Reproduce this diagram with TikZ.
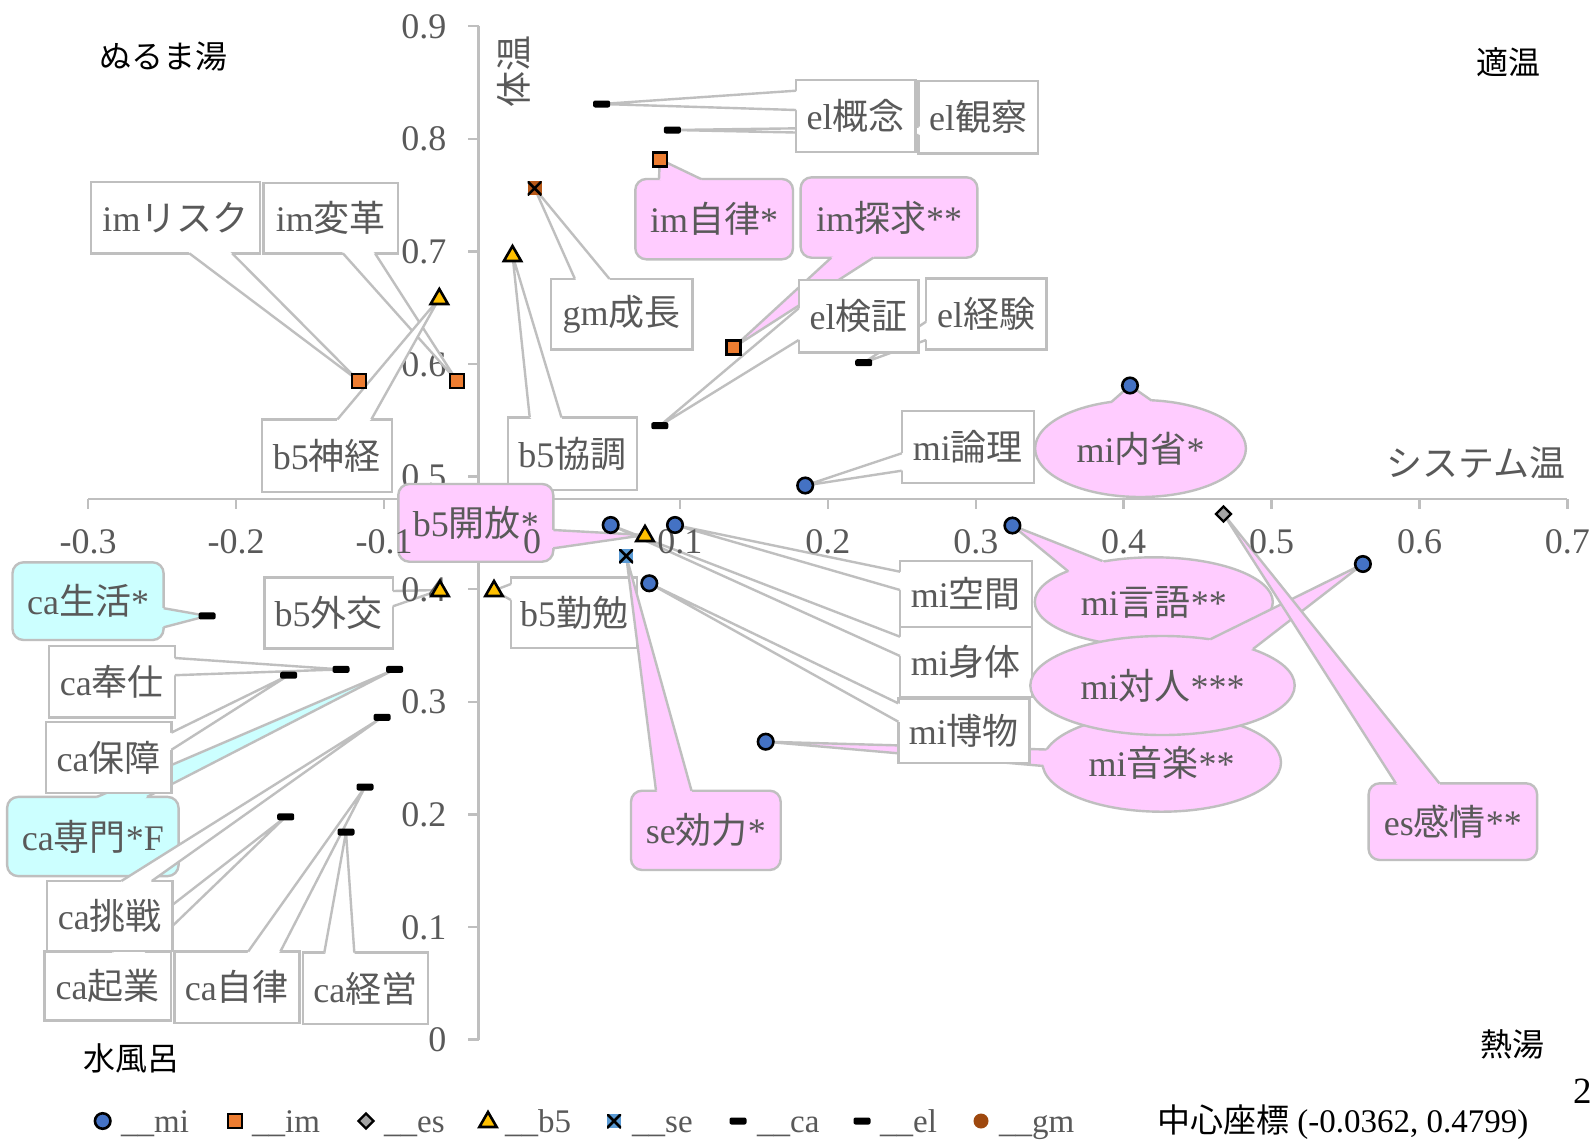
\documentclass[tikz,border=0pt]{standalone}
\usepackage{fontspec}
\setmainfont{Liberation Serif}
\newfontfamily\cjk{Noto Sans CJK JP}
\usetikzlibrary{calc,shapes.geometric}
\definecolor{miblue}{HTML}{4472C4}
\definecolor{imorange}{HTML}{ED7D31}
\definecolor{esgray}{HTML}{A5A5A5}
\definecolor{bgold}{HTML}{FFC000}
\definecolor{seblue}{HTML}{5B9BD5}
\definecolor{gmbrown}{HTML}{9E480E}
\definecolor{pinkfill}{HTML}{FFCCFF}
\definecolor{cyanfill}{HTML}{CCFFFF}
\definecolor{edgegray}{HTML}{BFBFBF}
\definecolor{txtgray}{HTML}{595959}
\newcommand\J[1]{{\cjk #1}}
\newcommand\labfont{\fontsize{36}{40}\selectfont}
\newcommand\rcall[9]{%
  \path[#1] #3 rectangle #4;
  \fill[#2] #5 -- #7 -- #6 -- ($#3!0.5!#4$) -- cycle;
  \draw[calline] #5 -- #7 -- #6;
  \node[labtext] (#8) at ($#3!0.5!#4$) {#9};
}
\newcommand\ecall[8]{%
  \path[pell] #1 ellipse [x radius=#2, y radius=#3];
  \fill[pinkfill] #4 -- #6 -- #5 -- #1 -- cycle;
  \draw[calline] #4 -- #6 -- #5;
  \node[labtext] (#7) at #1 {#8};
}
\begin{document}
\begin{tikzpicture}[x=1pt,y=-1pt,
  axisline/.style={draw=edgegray, line width=2.4pt},
  ticklab/.style={text=txtgray, font=\labfont, inner sep=0pt},
  wbox/.style={fill=white, draw=edgegray, line width=2.4pt},
  pbox/.style={fill=pinkfill, draw=edgegray, line width=2.4pt, rounded corners=11pt},
  cbox/.style={fill=cyanfill, draw=edgegray, line width=2.4pt, rounded corners=11pt},
  pell/.style={fill=pinkfill, draw=edgegray, line width=2.4pt},
  calline/.style={draw=edgegray, line width=2.4pt, line join=round},
  labtext/.style={text=txtgray, font=\labfont, inner sep=0pt},
  corner/.style={font=\cjk\fontsize{32}{36}\selectfont, inner sep=0pt, text=black},
  cornergray/.style={font=\cjk\fontsize{36}{40}\selectfont, inner sep=0pt, text=txtgray},
  legtext/.style={font=\fontsize{33}{36}\selectfont, inner sep=0pt, text=txtgray, anchor=base west},
  mimark/.style={circle, fill=miblue, draw=black, line width=2.6pt, minimum size=15.5pt, inner sep=0pt},
  immark/.style={rectangle, fill=imorange, draw=black, line width=2.6pt, minimum size=14pt, inner sep=0pt},
  esmark/.style={diamond, fill=esgray, draw=black, line width=2.4pt, minimum size=16pt, inner sep=0pt},
  b5mark/.style={regular polygon, regular polygon sides=3, fill=bgold, draw=black, line width=2.6pt, minimum size=20pt, inner sep=0pt},
  xmark/.style={rectangle, minimum size=14pt, inner sep=0pt,
    path picture={\draw[black, line width=2.6pt] (path picture bounding box.south west) -- (path picture bounding box.north east) (path picture bounding box.north west) -- (path picture bounding box.south east);}},
  semark/.style={xmark, fill=seblue},
  gmxmark/.style={xmark, fill=gmbrown!70!imorange},
  camark/.style={rectangle, fill=black, minimum width=17pt, minimum height=7pt, rounded corners=2pt, inner sep=0pt},
  gmmark/.style={circle, fill=gmbrown, minimum size=15pt, inner sep=0pt}
]
\useasboundingbox (0,0) rectangle (1594,1140);
\fill[white] (0,0) rectangle (1594,1140);

% axes
\draw[axisline] (88.2,499) -- (1567.4,499);
\draw[axisline] (478.6,26.1) -- (478.6,1039.5);
\foreach \v in {-3,...,7} {
  \pgfmathsetmacro\xx{532+147.92*\v}
  \draw[axisline] (\xx,499) -- (\xx,509);
}
\foreach \v/\t/\n in {0/0/a,1/0.1/b,2/0.2/c,3/0.3/d,5/0.5/f,6/0.6/g,7/0.7/h,8/0.8/i,9/0.9/j} {
  \pgfmathsetmacro\yy{1039.5-112.6*\v}
  \draw[axisline] (468,\yy) -- (478.6,\yy);
  \node[ticklab, anchor=base east] (yt\n) at (446.5,\yy+12.2) {\t};
}
\draw[axisline] (468,589.1) -- (478.6,589.1);

% corner labels
\node[corner] (nurumayu) at (163.4,56.7) {ぬるま湯};
\node[corner] (tekion) at (1508,62) {適温};
\node[cornergray] (sysmon) at (1476,463) {システム温};
\node[cornergray, rotate=90] (taion) at (514,71) {体温};
\node[corner] (nettou) at (1512,1044) {熱湯};
\node[corner] (mizuburo) at (131,1058) {水風呂};

% callouts, upper part
\rcall{wbox}{white}{(91,181.7)}{(260,253.3)}{(189.3,253.3)}{(232.1,253.3)}{(358.9,381)}{lRisk}{im\J{リスク}}
\rcall{wbox}{white}{(263.6,182.7)}{(398.2,253.3)}{(342.9,253.3)}{(375,253.3)}{(457.1,381)}{lHenkaku}{im\J{変革}}
\rcall{wbox}{white}{(261.8,419.3)}{(391.8,491.7)}{(337.5,419.3)}{(371.4,419.3)}{(439.3,298.3)}{lShinkei}{b5\J{神経}}
\rcall{wbox}{white}{(507.8,417.3)}{(636.8,490)}{(529.7,417.3)}{(561.4,417.3)}{(512.5,255)}{lKyocho}{b5\J{協調}}
\rcall{wbox}{white}{(550.7,278.7)}{(692.3,349.3)}{(574.8,278.7)}{(609.3,278.7)}{(534.6,188.3)}{lSeicho}{gm\J{成長}}
\rcall{wbox}{white}{(918.5,81)}{(1037.9,153.3)}{(918.5,126.7)}{(918.5,135)}{(672.4,130)}{lKansatsu}{el\J{観察}}
\rcall{wbox}{white}{(796,80)}{(915.4,151.7)}{(796,90.7)}{(796,110)}{(601.6,104)}{lGainen}{el\J{概念}}
\rcall{pbox}{pinkfill}{(635.3,179)}{(793,259.3)}{(659,179)}{(701,179)}{(659.8,159.3)}{lJiritsu}{im\J{自律}*}
\rcall{pbox}{pinkfill}{(800.6,177.3)}{(977.4,257.7)}{(831.2,257.7)}{(873.3,257.7)}{(733.2,347.7)}{lTankyu}{im\J{探求}**}
\rcall{wbox}{white}{(926.1,278.3)}{(1046.3,349.3)}{(926.1,321.7)}{(926.1,340)}{(863.7,362.7)}{lKeiken}{el\J{経験}}
\rcall{wbox}{white}{(798.7,280)}{(918.5,352.3)}{(798.7,308.3)}{(798.7,340)}{(659.8,425.7)}{lKensho}{el\J{検証}}
\rcall{wbox}{white}{(901.7,410.7)}{(1034,482.7)}{(901.7,453.3)}{(901.7,470.7)}{(805.2,485.5)}{lRonri}{mi\J{論理}}
\ecall{(1140.5,448.5)}{105.4}{48.5}{(1111.7,401.7)}{(1151.5,400.5)}{(1130,385.5)}{lNaisei}{mi\J{内省}*}

% callouts, middle
\rcall{wbox}{white}{(264.3,577.6)}{(392.9,648.4)}{(392.9,591)}{(392.9,606.3)}{(440,590)}{lGaiko}{b5\J{外交}}
\rcall{wbox}{white}{(510.9,577.5)}{(637.2,647.7)}{(510.9,584)}{(510.9,600)}{(494,590.5)}{lKinben}{b5\J{勤勉}}
\rcall{pbox}{pinkfill}{(398.3,484)}{(553.3,561.7)}{(553.3,530)}{(553.3,548.3)}{(645,535)}{lKaiho}{b5\J{開放}*}
\rcall{pbox}{pinkfill}{(631,790.7)}{(780.7,870)}{(656,790.7)}{(691.5,790.7)}{(626.2,556)}{lKoryoku}{se\J{効力}*}
\ecall{(1161.7,762.5)}{119.3}{49.2}{(1046.5,749.5)}{(1043.5,766)}{(765.7,741.7)}{lOngaku}{mi\J{音楽}**}
\rcall{wbox}{white}{(898.3,698.3)}{(1029.3,762.7)}{(898.3,703.3)}{(898.3,721.7)}{(649.3,583.3)}{lHakubutsu}{mi\J{博物}}
\rcall{wbox}{white}{(900,626.7)}{(1031.7,696.7)}{(900,636.7)}{(900,656)}{(610.7,525)}{lShintai}{mi\J{身体}}
\rcall{wbox}{white}{(900,561)}{(1031.7,626.7)}{(900,571.7)}{(900,590)}{(675,525)}{lKukan}{mi\J{空間}}
\ecall{(1153.8,602)}{119}{44.7}{(1068.2,571.3)}{(1102.3,561)}{(1012.4,525.5)}{lGengo}{mi\J{言語}**}
\ecall{(1162.5,685.5)}{132.2}{49.5}{(1210.2,639.3)}{(1253,649)}{(1362.9,564)}{lTaijin}{mi\J{対人}***}
\rcall{pbox}{pinkfill}{(1368.6,783.3)}{(1537.1,860)}{(1395.8,783.3)}{(1439.4,783.3)}{(1223.5,514)}{lKanjo}{es\J{感情}**}

% callouts, lower left
\rcall{wbox}{white}{(44.6,951.5)}{(170.7,1020.4)}{(112.5,951.5)}{(146,951.5)}{(285.7,816.8)}{lKigyo}{ca\J{起業}}
\rcall{wbox}{white}{(174.3,951.5)}{(299.3,1022.7)}{(248.2,951.5)}{(280.4,951.5)}{(365,787)}{lCaJiritsu}{ca\J{自律}}
\rcall{wbox}{white}{(302.9,952.6)}{(427.9,1024.2)}{(324.3,952.6)}{(354.3,952.6)}{(346,832)}{lKeiei}{ca\J{経営}}
\rcall{cbox}{cyanfill}{(7.1,796.9)}{(178.6,876.1)}{(97,796.9)}{(147,796.9)}{(394.6,669.4)}{lSenmon}{ca\J{専門}*F}
\rcall{wbox}{white}{(47.1,881)}{(172.5,950.7)}{(121.4,881)}{(151.8,881)}{(382.1,717.3)}{lChosen}{ca\J{挑戦}}
\rcall{wbox}{white}{(45.7,721.9)}{(171.4,793)}{(171.4,732.6)}{(171.4,749.8)}{(288.6,675.2)}{lHosho}{ca\J{保障}}
\rcall{wbox}{white}{(48.9,645.7)}{(175,717.3)}{(175,658)}{(175,675.2)}{(341,669.4)}{lHoshi}{ca\J{奉仕}}
\rcall{cbox}{cyanfill}{(12.5,562.3)}{(163.6,640)}{(163.6,608.2)}{(163.6,627.3)}{(207.1,615.9)}{lSeikatsu}{ca\J{生活}*}

% tick labels drawn over the callouts
\node[ticklab, anchor=base east] (yte) at (446.5,601.3) {0.4};
\foreach \v/\t/\n in {-3/-0.3/a,-2/-0.2/b,-1/-0.1/c,0/0/d,1/0.1/e,2/0.2/f,3/0.3/g,4/0.4/h,5/0.5/i,6/0.6/j,7/0.7/k} {
  \pgfmathsetmacro\xx{532+147.92*\v}
  \node[ticklab, anchor=base] (xt\n) at (\xx,553) {\t};
}

% markers
\node[mimark] (pRonri) at (805.2,485.5) {};
\node[mimark] (pNaisei) at (1130,385.5) {};
\node[mimark] (pShintai) at (610.7,525) {};
\node[mimark] (pKukan) at (675,525) {};
\node[mimark] (pHakubutsu) at (649.3,583.3) {};
\node[mimark] (pOngaku) at (765.7,741.7) {};
\node[mimark] (pGengo) at (1012.4,525.5) {};
\node[mimark] (pTaijin) at (1362.9,564) {};
\node[immark] (pRisk) at (358.9,381) {};
\node[immark] (pHenkaku) at (457.1,381) {};
\node[immark] (pJiritsu) at (659.8,159.3) {};
\node[immark] (pTankyu) at (733.2,347.7) {};
\node[esmark] (pKanjo) at (1223.5,514) {};
\node[b5mark] (pShinkei) at (439.3,299) {};
\node[b5mark] (pKyocho) at (512.5,256) {};
\node[b5mark] (pGaiko) at (440,591) {};
\node[b5mark] (pKinben) at (494,591) {};
\node[b5mark] (pKaiho) at (645,536) {};
\node[semark] (pKoryoku) at (626.2,556) {};
\node[gmxmark] (pSeicho) at (534.6,188.3) {};
\foreach \p/\q in {207.1/615.9, 341/669.4, 394.6/669.4, 288.6/675.2, 382.1/717.3, 365/787, 285.7/816.8, 346/832, 601.6/104, 672.4/130, 863.7/362.7, 659.8/425.7} {
  \node[camark] at (\p,\q) {};
}

% legend
\node[mimark] (g1) at (102.7,1121) {};
\node[legtext] (t1) at (121,1132) {\_\_mi};
\node[immark] (g2) at (234.8,1121) {};
\node[legtext] (t2) at (252,1132) {\_\_im};
\node[esmark] (g3) at (366,1121) {};
\node[legtext] (t3) at (384,1132) {\_\_es};
\node[b5mark] (g4) at (488,1122) {};
\node[legtext] (t4) at (505,1132) {\_\_b5};
\node[semark] (g5) at (614,1121) {};
\node[legtext] (t5) at (632,1132) {\_\_se};
\node[camark] (g6) at (738,1121) {};
\node[legtext] (t6) at (757,1132) {\_\_ca};
\node[camark] (g7) at (862,1121) {};
\node[legtext] (t7) at (880,1132) {\_\_el};
\node[gmmark] (g8) at (981,1121) {};
\node[legtext] (t8) at (999,1132) {\_\_gm};
\node[legtext, text=black] (center) at (1157,1132) {\J{中心座標} (-0.0362, 0.4799)};
\node[inner sep=0pt, anchor=base west, font=\fontsize{37}{40}\selectfont] (pagenum) at (1573,1103) {2};
\end{tikzpicture}
\end{document}
